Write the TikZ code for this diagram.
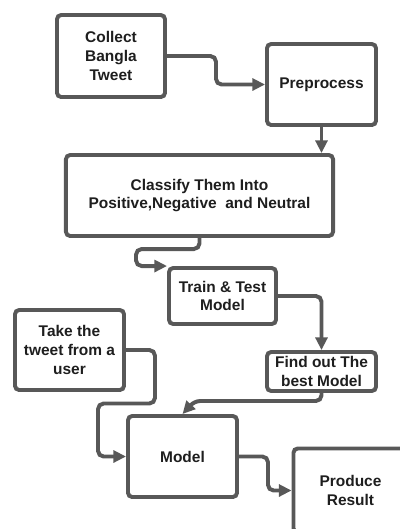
\documentclass[tikz,border=0pt]{standalone}
\usepackage{fontspec}
\setmainfont{Liberation Sans}
\usepackage{xcolor}
\usepackage{tikz}
\usetikzlibrary{arrows.meta,calc}
\definecolor{figline}{RGB}{88,88,88}
\definecolor{figtext}{RGB}{30,30,30}
\tikzset{
  box/.style  ={draw=figline, line width=2.8pt, rounded corners=3pt, fill=white,
                align=center, inner sep=1pt, text=figtext,
                font=\fontsize{11}{13.2}\selectfont\bfseries},
  flow/.style ={draw=figline, line width=2.8pt, rounded corners=4pt,
                -{Triangle[length=9pt,width=8.5pt]}},
}
\begin{document}
\begin{tikzpicture}[x=0.025cm,y=-0.025cm]
  \useasboundingbox (0,0) rectangle (400,529);
  \clip (0,0) rectangle (400,529);
  % boxes
  \node[box,minimum width=2.7cm,minimum height=2.05cm]   (collect)  at (111,56)    {Collect\\Bangla\\Tweet};
  \node[box,minimum width=2.725cm,minimum height=2.025cm] (prep)    at (321.5,84.5) {Preprocess};
  \node[box,minimum width=6.675cm,minimum height=2.025cm] (classify) at (199.5,195.5) {Classify Them Into\\Positive,Negative\ \ and Neutral};
  \node[box,minimum width=2.675cm,minimum height=1.4cm]  (train)    at (222.5,296) {Train \& Test\\Model};
  \node[box,minimum width=2.725cm,minimum height=2cm]    (take)     at (69.5,350)  {Take the\\tweet from a\\user};
  \node[box,minimum width=2.725cm,minimum height=0.975cm] (find)    at (321.5,371.5) {Find out The\\best Model};
  \node[box,minimum width=2.725cm,minimum height=2.025cm] (model)   at (182.5,456.5) {Model};
  \node[box,minimum width=2.85cm,minimum height=2.1cm]   (produce)  at (350.5,490.5) {Produce\\Result};
  % connectors
  \draw[flow] (collect.east) -- ++(49,0) |- (prep.west);
  \draw[flow] (prep.south) -- (prep.south |- classify.north);
  \draw[flow] (classify.south) |- ($(train.north west)+(-31,-17)$) |- (train.north west);
  \draw[flow] (train.east) -| (find.north);
  \draw[flow] (take.east) -- ++(29,0) |- ($(model.west)+(-28,-53)$) |- (model.west);
  \draw[flow] (find.south) |- ($(model.north)+(12,-13)$) -- (model.north);
  \draw[flow] (model.east) -- ++(29,0) |- (produce.west);
\end{tikzpicture}
\end{document}
